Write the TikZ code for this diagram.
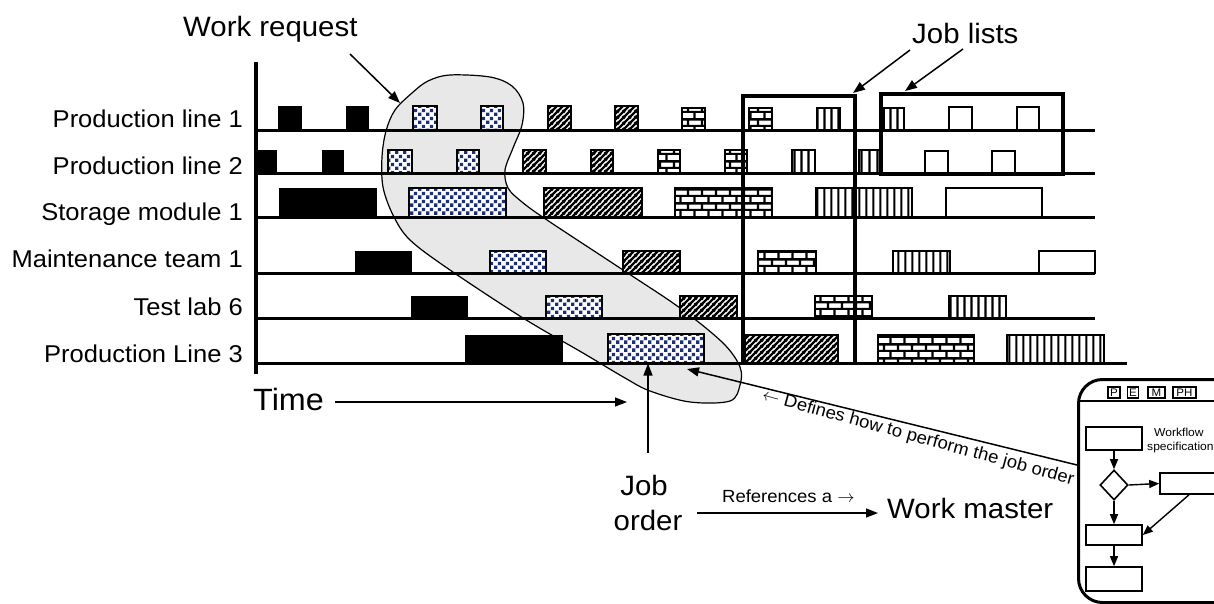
\documentclass[tikz,border=0pt]{standalone}
\usepackage{fontspec}
\setmainfont{Liberation Sans}[FakeStretch=1.05]
\usetikzlibrary{arrows.meta,patterns,calc,shapes.geometric}
\definecolor{navyb}{RGB}{28,48,115}
\definecolor{blobg}{RGB}{232,232,232}
\pgfdeclarepatternformonly{bdots}{\pgfqpoint{0pt}{0pt}}{\pgfqpoint{7.6pt}{7.6pt}}{\pgfqpoint{7.6pt}{7.6pt}}{%
  \pgfpathrectangle{\pgfqpoint{0.2pt}{0.2pt}}{\pgfqpoint{3.4pt}{3.4pt}}%
  \pgfpathrectangle{\pgfqpoint{4pt}{4pt}}{\pgfqpoint{3.4pt}{3.4pt}}%
  \pgfusepath{fill}}
\pgfdeclarepatternformonly{hatchx}{\pgfqpoint{0pt}{0pt}}{\pgfqpoint{6pt}{6pt}}{\pgfqpoint{6pt}{6pt}}{%
  \pgfsetlinewidth{2.6pt}%
  \pgfpathmoveto{\pgfqpoint{-1pt}{-1pt}}\pgfpathlineto{\pgfqpoint{7pt}{7pt}}%
  \pgfpathmoveto{\pgfqpoint{-1pt}{5pt}}\pgfpathlineto{\pgfqpoint{1pt}{7pt}}%
  \pgfpathmoveto{\pgfqpoint{5pt}{-1pt}}\pgfpathlineto{\pgfqpoint{7pt}{1pt}}%
  \pgfusepath{stroke}}
\pgfdeclarepatternformonly{brickx}{\pgfqpoint{0pt}{0pt}}{\pgfqpoint{14pt}{14pt}}{\pgfqpoint{14pt}{14pt}}{%
  \pgfsetlinewidth{2.4pt}%
  \pgfpathmoveto{\pgfqpoint{-1pt}{1pt}}\pgfpathlineto{\pgfqpoint{15pt}{1pt}}%
  \pgfpathmoveto{\pgfqpoint{-1pt}{8pt}}\pgfpathlineto{\pgfqpoint{15pt}{8pt}}%
  \pgfpathmoveto{\pgfqpoint{2pt}{0pt}}\pgfpathlineto{\pgfqpoint{2pt}{8pt}}%
  \pgfpathmoveto{\pgfqpoint{9pt}{8pt}}\pgfpathlineto{\pgfqpoint{9pt}{15pt}}%
  \pgfusepath{stroke}}
\pgfdeclarepatternformonly{vlinex}{\pgfqpoint{0pt}{0pt}}{\pgfqpoint{7.4pt}{4pt}}{\pgfqpoint{7.4pt}{4pt}}{%
  \pgfsetlinewidth{2.2pt}%
  \pgfpathmoveto{\pgfqpoint{3.7pt}{-1pt}}\pgfpathlineto{\pgfqpoint{3.7pt}{5pt}}%
  \pgfusepath{stroke}}
\newcommand\blk[5]{\draw[#1] (#2,#4) rectangle (#3,#5);}
\begin{document}
\begin{tikzpicture}[x=1pt,y=-1pt,
  blkline/.style={draw=black,line width=1.7pt},
  dotsb/.style={blkline,preaction={fill=white},pattern=bdots,pattern color=navyb},
  hatchb/.style={blkline,preaction={fill=white},pattern=hatchx,pattern color=black},
  brickb/.style={blkline,preaction={fill=white},pattern=brickx,pattern color=black},
  vlb/.style={blkline,preaction={fill=white},pattern=vlinex,pattern color=black},
  emptyb/.style={blkline,fill=white},
  rowline/.style={line width=3pt},
  joblist/.style={line width=3.5pt},
  rowlab/.style={anchor=base east,inner sep=0pt,font=\fontsize{24.3}{29}\selectfont},
  big/.style={inner sep=0pt,font=\fontsize{28}{34}\selectfont},
  small/.style={inner sep=0pt,font=\fontsize{17.6}{20}\selectfont},
  arr/.style={line width=1.5pt,-{Triangle[length=12pt,width=9pt]}},
  farr/.style={line width=1.4pt,-{Triangle[length=10pt,width=8pt]}},
  fbox/.style={draw,line width=1.6pt,inner sep=0pt},
  tag/.style={draw,line width=1.2pt,inner sep=0pt,minimum height=11pt,font=\fontsize{11}{11}\selectfont}
]
\useasboundingbox (0,0) rectangle (1214,603);
\clip (0,0) rectangle (1214,603);
\fill[white] (0,0) rectangle (1214,603);

% work request region
\draw[fill=blobg,line width=1.2pt] plot[smooth cycle,tension=0.55] coordinates {
 (450,75) (490,77) (512,86) (523,103) (522,125) (513,148) (505,170) (508,188)
 (522,202) (547,220) (623,270) (680,308) (723,343) (740,367) (740,385) (730,401)
 (690,402) (650,391) (625,378) (583,353) (523,318) (450,270) (410,240) (393,215)
 (383,187) (382,157) (386,131) (395,110) (412,93) (428,81)};

% row 1
\fill (278,106) rectangle (302,130);
\fill (346,106) rectangle (369,130);
\blk{dotsb}{413}{437}{106}{130}
\blk{dotsb}{481}{503}{106}{130}
\blk{hatchb}{548}{571}{106}{130}
\blk{hatchb}{615}{638}{106}{130}
\blk{brickb}{682}{705}{108}{130}
\blk{brickb}{749}{772}{108}{130}
\blk{vlb}{817}{840}{108}{130}
\blk{vlb}{884}{904}{108}{130}
\blk{emptyb}{949}{972}{107}{130}
\blk{emptyb}{1017}{1039}{107}{130}
% row 2
\fill (256,150) rectangle (277,173);
\fill (322,150) rectangle (344,173);
\blk{dotsb}{388}{412}{150}{173}
\blk{dotsb}{457}{479}{150}{173}
\blk{hatchb}{523}{546}{150}{173}
\blk{hatchb}{591}{613}{150}{173}
\blk{brickb}{658}{680}{150}{173}
\blk{brickb}{725}{747}{150}{173}
\blk{vlb}{792}{815}{150}{173}
\blk{vlb}{859}{880}{150}{173}
\blk{emptyb}{925}{948}{151}{173}
\blk{emptyb}{992}{1015}{151}{173}
% row 3
\fill (279,188) rectangle (377,217);
\blk{dotsb}{409}{506}{188}{217}
\blk{hatchb}{544}{642}{188}{217}
\blk{brickb}{675}{772}{188}{217}
\blk{vlb}{816}{912}{188}{217}
\blk{emptyb}{946}{1042}{188}{217}
% row 4
\fill (355,251) rectangle (412,273);
\blk{dotsb}{490}{546}{251}{273}
\blk{hatchb}{623}{680}{251}{273}
\blk{brickb}{758}{816}{251}{273}
\blk{vlb}{893}{950}{251}{273}
\blk{emptyb}{1039}{1095}{251}{273}
% row 5
\fill (411,296) rectangle (468,318);
\blk{dotsb}{546}{602}{296}{318}
\blk{hatchb}{680}{737}{296}{318}
\blk{brickb}{815}{872}{296}{318}
\blk{vlb}{949}{1006}{296}{318}
% row 6
\fill (465,335) rectangle (563,363.5);
\node[dotsb,anchor=south west,minimum width=96pt,minimum height=28.5pt,inner sep=0pt] (jo) at (607,363.5) {};
\blk{hatchb}{745}{838}{335}{363.5}
\blk{brickb}{878}{974}{335}{363.5}
\blk{vlb}{1007}{1104}{335}{363.5}

% axis and row lines
\draw[line width=3.2pt] (256,62) -- (256,374);
\foreach \yy in {130,173,217,273,318} \draw[rowline] (256,\yy) -- (1095,\yy);
\draw[rowline] (256,363.5) -- (1127,363.5);

% job lists
\draw[joblist] (743,364) -- (743,96) -- (855,96) -- (855,364);
\draw[joblist] (881,94) rectangle (1063,174);

% row labels
\node[rowlab] (l1) at (243,127) {Production line 1};
\node[rowlab] (l2) at (243,174) {Production line 2};
\node[rowlab] (l3) at (243,220) {Storage module 1};
\node[rowlab] (l4) at (243,267) {Maintenance team 1};
\node[rowlab] (l5) at (243,315) {Test lab 6};
\node[rowlab] (l6) at (243,362) {Production Line 3};

% titles
\node[big,anchor=base west] (wr) at (183,36) {Work request};
\node[big,anchor=base west] (jl) at (912,43) {Job lists};
\node[inner sep=0pt,font=\fontsize{30.8}{36}\selectfont,anchor=base west] (tm) at (253,410) {Time};
\node[big,anchor=base] (job) at (644,495) {Job};
\node[big,anchor=base] (ord) at (648,530) {order};
\node[big,anchor=base west] (wm) at (887,518) {Work master};
\node[small,anchor=base west] (ref) at (722,502) {References a $\rightarrow$};
\node[small,rotate=-15.3,anchor=center] (def) at (918,438) {$\leftarrow$ Defines how to perform the job order};

% arrows
\coordinate (wrs) at (350,54);
\coordinate (wrt) at (400,103);
\draw[arr] (wrs) -- (wrt);
\coordinate (jl1s) at (910,50);
\coordinate (jl1t) at (853,93);
\coordinate (jl2s) at (963,49);
\coordinate (jl2t) at (905,91);
\draw[arr] (jl1s) -- (jl1t);
\draw[arr] (jl2s) -- (jl2t);
\coordinate (tms) at (335,402);
\coordinate (tmt) at (627,402);
\draw[arr] (tms) -- (tmt);
\coordinate (jos) at (648,453);
\draw[arr] (jos) -- (jos |- jo.south);
\coordinate (refs) at (697,513);
\coordinate (reft) at (878,513);
\draw[arr] (refs) -- (reft);

% workflow specification
\node[draw,line width=3pt,rounded corners=24pt,minimum width=180pt,minimum height=223pt,anchor=north west,inner sep=0pt] (wf) at (1077,378) {};
\draw[line width=2.8pt] (1079,401) -- (1260,401);
\node[tag,minimum width=12pt] (tp) at (1114,392.5) {P};
\node[tag,minimum width=10.5pt] (te) at (1133,392.5) {E};
\node[tag,minimum width=17pt] (tmm) at (1156.5,392.5) {M};
\node[tag,minimum width=23pt] (tph) at (1184.5,392.5) {PH};
\node[inner sep=0pt,anchor=base west,font=\fontsize{11.5}{13}\selectfont] (wft) at (1154,436) {Workflow};
\node[inner sep=0pt,anchor=base west,font=\fontsize{11.5}{13}\selectfont] (wfs) at (1147,450) {specification};
\node[fbox,minimum width=56pt,minimum height=23pt] (f1) at (1114,438.5) {};
\node[fbox,diamond,minimum width=28pt,minimum height=30pt] (dia) at (1114,485) {};
\node[fbox,minimum width=58pt,minimum height=21pt] (f2) at (1189,483.5) {};
\node[fbox,minimum width=56pt,minimum height=20pt] (f3) at (1114,535) {};
\node[fbox,minimum width=56pt,minimum height=24pt] (f4) at (1114,579) {};
\draw[farr] (f1.south) -- (dia.north);
\draw[farr] (dia.east) -- (f2.west);
\draw[farr] (dia.south) -- (f3.north);
\draw[farr] (f2.south) -- (f3.east);
\draw[farr] (f3.south) -- (f4.north);
\coordinate (defs) at (1077,465);
\coordinate (deft) at (687,369);
\draw[arr] (defs) -- (deft);
\end{tikzpicture}
\end{document}
